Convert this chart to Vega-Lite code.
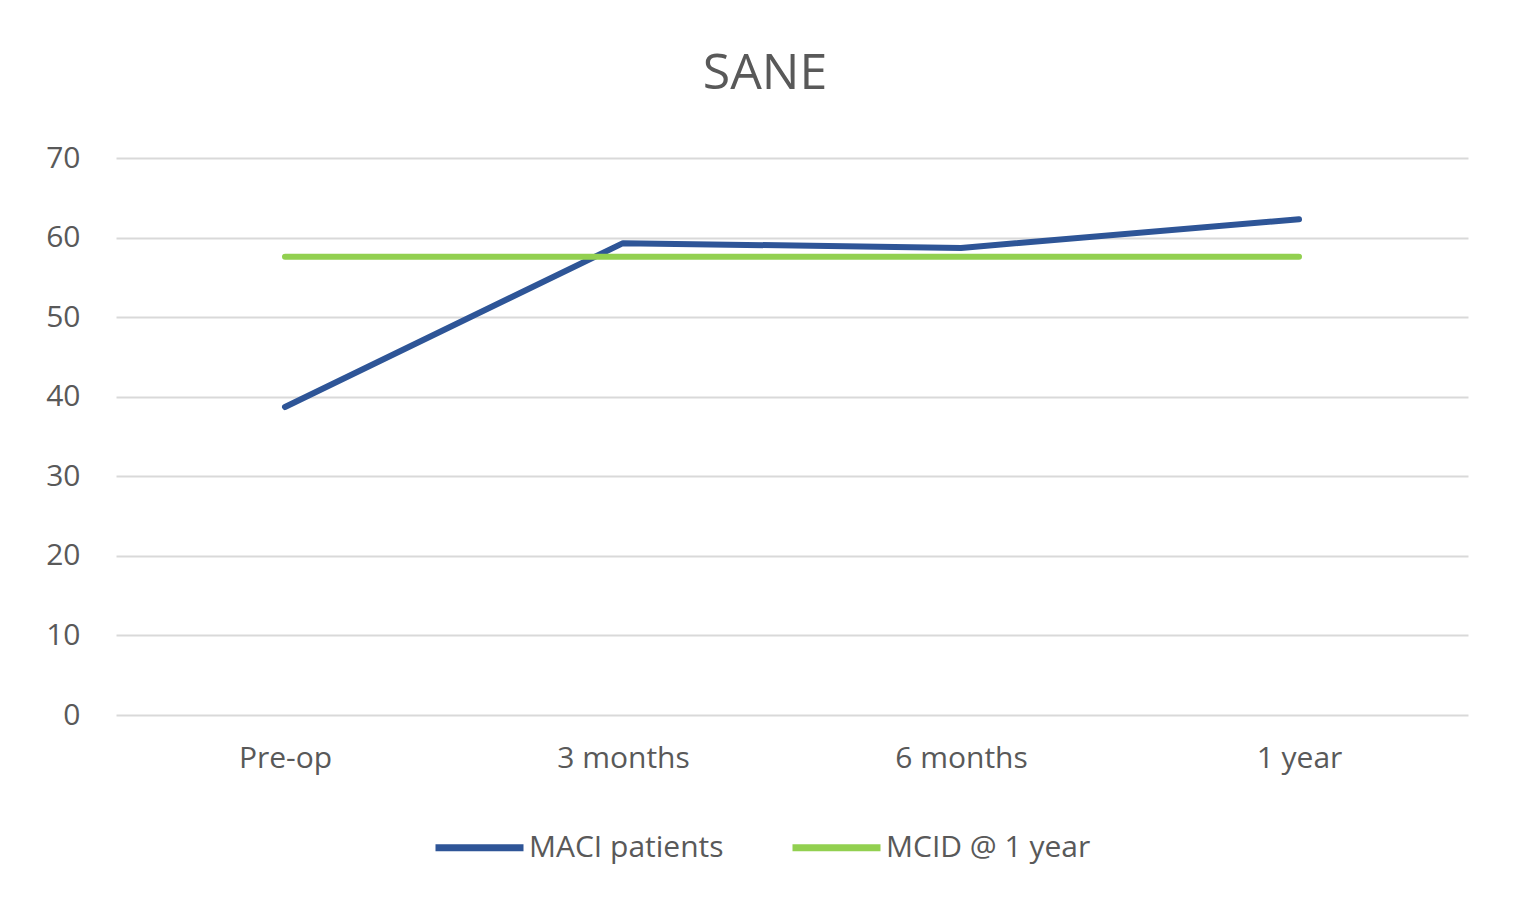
{
  "$schema": "https://vega.github.io/schema/vega-lite/v6.json",
  "autosize": "none",
  "width": 1352,
  "height": 557,
  "padding": {"left": 116, "top": 158, "right": 56, "bottom": 189},
  "background": "white",
  "title": {
    "text": "SANE",
    "font": "Open Sans",
    "fontSize": 50,
    "fontWeight": "normal",
    "color": "#595959",
    "anchor": "middle",
    "dx": -27,
    "baseline": "alphabetic",
    "offset": 4
  },
  "data": {
    "values": [
      {"time": "Pre-op", "series": "MACI patients", "value": 38.7},
      {"time": "3 months", "series": "MACI patients", "value": 59.3},
      {"time": "6 months", "series": "MACI patients", "value": 58.7},
      {"time": "1 year", "series": "MACI patients", "value": 62.3},
      {"time": "Pre-op", "series": "MCID @ 1 year", "value": 57.6},
      {"time": "3 months", "series": "MCID @ 1 year", "value": 57.6},
      {"time": "6 months", "series": "MCID @ 1 year", "value": 57.6},
      {"time": "1 year", "series": "MCID @ 1 year", "value": 57.6}
    ]
  },
  "mark": {"type": "line", "strokeWidth": 6, "strokeCap": "round", "strokeJoin": "round"},
  "encoding": {
    "x": {
      "field": "time",
      "type": "ordinal",
      "sort": ["Pre-op", "3 months", "6 months", "1 year"],
      "scale": {"type": "point", "padding": 0.5},
      "axis": {
        "title": null,
        "labelAngle": 0,
        "domain": false,
        "ticks": false,
        "labelFont": "Open Sans",
        "labelFontSize": 30,
        "labelColor": "#595959",
        "labelPadding": 28
      }
    },
    "y": {
      "field": "value",
      "type": "quantitative",
      "scale": {"domain": [0, 70]},
      "axis": {
        "title": null,
        "values": [0, 10, 20, 30, 40, 50, 60, 70],
        "domain": false,
        "ticks": false,
        "gridColor": "#d9d9d9",
        "gridWidth": 2,
        "labelFont": "Open Sans",
        "labelFontSize": 30,
        "labelColor": "#595959",
        "labelPadding": 36
      }
    },
    "color": {
      "field": "series",
      "type": "nominal",
      "scale": {"domain": ["MACI patients", "MCID @ 1 year"], "range": ["#2E5597", "#92D050"]},
      "legend": {
        "title": null,
        "orient": "none",
        "direction": "horizontal",
        "legendX": 316,
        "legendY": 642,
        "symbolType": "stroke",
        "symbolSize": 7744,
        "symbolStrokeWidth": 7,
        "labelFont": "Open Sans",
        "labelFontSize": 30,
        "labelColor": "#595959",
        "labelOffset": 2,
        "labelLimit": 500,
        "columnPadding": 54
      }
    }
  },
  "config": {"view": {"stroke": null}}
}
